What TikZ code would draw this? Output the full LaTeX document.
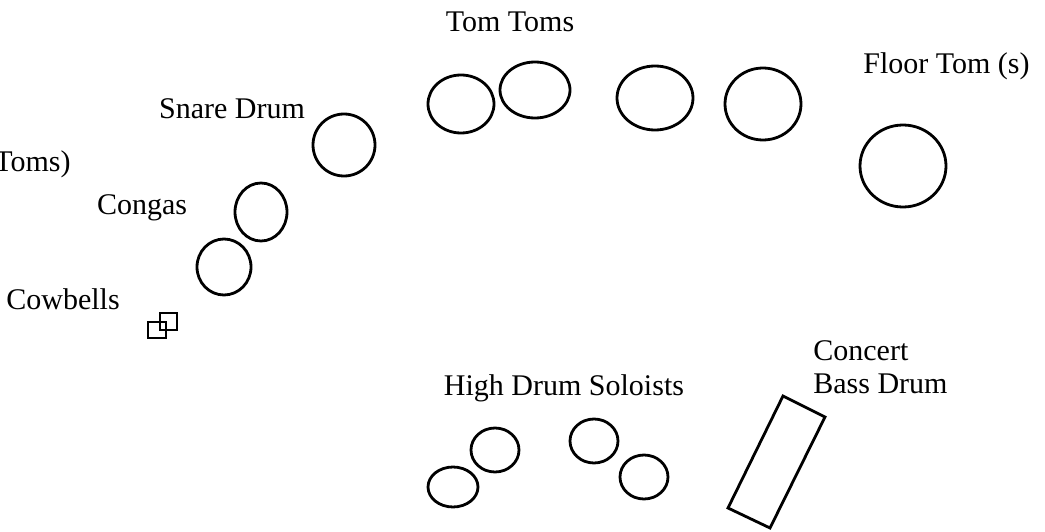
\documentclass[tikz,border=0pt]{standalone}
\usepackage{fontspec}
\setmainfont{Liberation Serif}
\usetikzlibrary{calc}

\begin{document}
\begin{tikzpicture}[x=1pt, y=-1pt, line width=2.8pt,
    every node/.style={font=\fontsize{30}{34}\selectfont, inner sep=0pt}]
\useasboundingbox (0,0) rectangle (1045,532);
% labels
\node (tomtoms) at (510,22) {Tom Toms};
\node[anchor=west] (floortom) at (862,66) {Floor Tom (s)};
\node (snare) at (232,109) {Snare Drum};
\node[anchor=east] (toms) at (72,164) {Toms)};
\node (congas) at (142,208) {Congas};
\node (cowbells) at (63,299) {Cowbells};
\node[anchor=west] (concert) at (812,351) {Concert};
\node[anchor=west] (bass) at (812,384) {Bass Drum};
\node (soloists) at (564,388) {High Drum Soloists};
% drums
\foreach \cx/\cy/\rx/\ry in {461/104/33/29, 535/90/35/28, 655/98/38/32, 763/104/38/36,
    903/166/43/41, 344/145/31/31, 261/212/26/29, 224/267/27/28,
    453/487/25/20, 495/450/24/22, 594/441/24/22, 644/477/24/22} {
    \draw (\cx,\cy) ellipse [x radius=\rx, y radius=\ry];
}
% cowbells
\draw (148,322) rectangle (166,338);
\draw (160,313) rectangle (177,330);
% bass drum
\draw (783,396) -- (825,417) -- (770,528) -- (728,508) -- cycle;
\end{tikzpicture}
\end{document}
